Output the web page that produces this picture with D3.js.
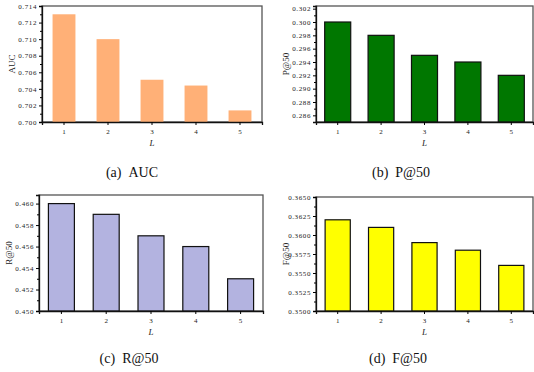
<!DOCTYPE html>
<html>
<head>
<meta charset="utf-8">
<script src="https://cdn.jsdelivr.net/npm/d3@7"></script>
<style>
  body { margin: 0; background: #fff; }
  svg { display: block; }
  text { font-family: "Liberation Serif", "DejaVu Serif", serif; fill: #222; }
</style>
</head>
<body>
<div id="chart"></div>
<script>
// values
var layers = ["1", "2", "3", "4", "5"];
var aucValues = [0.7130, 0.7100, 0.7051, 0.7044, 0.7014];
var pValues = [0.300, 0.298, 0.295, 0.294, 0.292];
var rValues = [0.460, 0.459, 0.457, 0.456, 0.453];
var fValues = [0.3620, 0.3610, 0.3590, 0.3580, 0.3560];

var aucTicks = [0.700, 0.702, 0.704, 0.706, 0.708, 0.710, 0.712, 0.714];
var pTicks = [0.286, 0.288, 0.290, 0.292, 0.294, 0.296, 0.298, 0.300, 0.302];
var rTicks = [0.450, 0.452, 0.454, 0.456, 0.458, 0.460];
var fTicks = [0.3500, 0.3525, 0.3550, 0.3575, 0.3600, 0.3625, 0.3650];

var panels = [
  {vals: aucValues, ticks: aucTicks, dom: [0.700, 0.714], fmt: ".3f", label: "AUC", cap: "(a)\u00a0\u00a0AUC",
   fill: "#ffb077", stroke: "none", pad: 0.48, box: [42, 262, 6, 122], capX: 132, capY: 177},
  {vals: pValues, ticks: pTicks, dom: [0.285, 0.3024], fmt: ".3f", label: "P@50", cap: "(b)\u00a0\u00a0P@50",
   fill: "#007700", stroke: "#111", pad: 0.4, box: [316, 533, 6, 122], capX: 401, capY: 177},
  {vals: rValues, ticks: rTicks, dom: [0.450, 0.4608], fmt: ".3f", label: "R@50", cap: "(c)\u00a0\u00a0R@50",
   fill: "#b3b3e0", stroke: "#111", pad: 0.42, box: [39, 263, 195, 311], capX: 129, capY: 363},
  {vals: fValues, ticks: fTicks, dom: [0.3500, 0.3650], fmt: ".4f", label: "F@50", cap: "(d)\u00a0\u00a0F@50",
   fill: "#ffff00", stroke: "#111", pad: 0.42, box: [316, 533, 197, 311], capX: 398, capY: 363}
];

var svg = d3.select("#chart").append("svg")
  .attr("width", 534)
  .attr("height", 372);

panels.forEach(function(p) {
  var x0 = p.box[0], x1 = p.box[1], y0 = p.box[2], y1 = p.box[3];

  var x = d3.scaleBand()
    .domain(layers)
    .range([x0, x1])
    .paddingInner(p.pad)
    .paddingOuter(p.pad / 2);

  var y = d3.scaleLinear()
    .domain(p.dom)
    .range([y1, y0]);

  var g = svg.append("g");

  // frame (top + right)
  g.append("rect")
    .attr("x", x0).attr("y", y0)
    .attr("width", x1 - x0).attr("height", y1 - y0)
    .attr("fill", "none")
    .attr("stroke", "#555")
    .attr("stroke-width", 1.3);

  g.selectAll(".bar")
    .data(p.vals)
    .enter()
    .append("rect")
    .attr("class", "bar")
    .attr("x", function(d, i) { return x(layers[i]); })
    .attr("width", x.bandwidth())
    .attr("y", function(d) { return y(d); })
    .attr("height", function(d) { return y1 - y(d); })
    .attr("fill", p.fill)
    .attr("stroke", p.stroke)
    .attr("stroke-width", 1.2);

  // minor ticks halfway between majors
  var step = p.ticks[1] - p.ticks[0];
  var minor = [];
  for (var i = 0; i < p.ticks.length; i++) {
    var m = p.ticks[i] - step / 2;
    if (m >= p.dom[0] - 1e-9) minor.push(m);
  }
  if (p.ticks[p.ticks.length - 1] + step / 2 <= p.dom[1]) minor.push(p.ticks[p.ticks.length - 1] + step / 2);

  g.append("g")
    .attr("transform", "translate(" + x0 + ",0)")
    .call(d3.axisLeft(y).tickValues(minor).tickSize(2).tickFormat(""))
    .call(function(a) { a.select(".domain").remove(); });

  var yAxis = g.append("g")
    .attr("transform", "translate(" + x0 + ",0)")
    .call(d3.axisLeft(y).tickValues(p.ticks).tickSize(3).tickPadding(2).tickFormat(d3.format(p.fmt)));
  yAxis.select(".domain").attr("stroke", "#111").attr("stroke-width", 1.3);
  yAxis.selectAll("text")
    .style("font-size", "7px")
    .attr("letter-spacing", "0.6px");

  var xAxis = g.append("g")
    .attr("transform", "translate(0," + y1 + ")")
    .call(d3.axisBottom(x).tickSize(3).tickPadding(4));
  xAxis.select(".domain").attr("stroke", "#111").attr("stroke-width", 1.3);
  xAxis.selectAll("text").style("font-size", "7px");

  g.append("text")
    .attr("transform", "translate(" + (x0 - 27) + "," + ((y0 + y1) / 2) + ") rotate(-90)")
    .attr("text-anchor", "middle")
    .style("font-size", "9px")
    .text(p.label);

  g.append("text")
    .attr("x", (x0 + x1) / 2)
    .attr("y", y1 + 24)
    .attr("text-anchor", "middle")
    .style("font-size", "9px")
    .style("font-style", "italic")
    .text("L");

  g.append("text")
    .attr("x", p.capX)
    .attr("y", p.capY)
    .attr("text-anchor", "middle")
    .style("font-size", "14px")
    .style("fill", "#111")
    .text(p.cap);
});
</script>
</body>
</html>
